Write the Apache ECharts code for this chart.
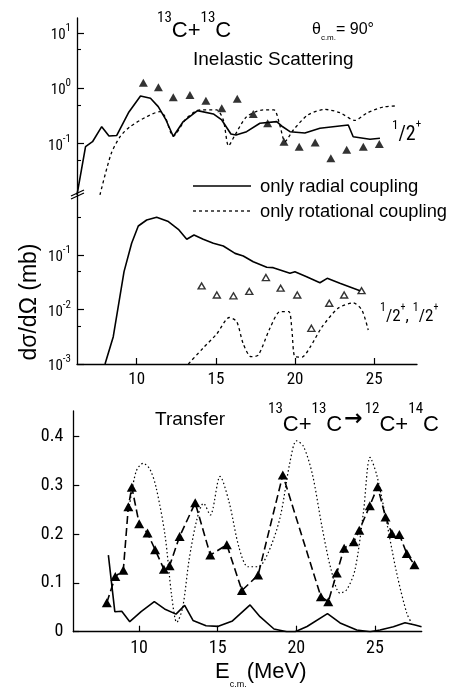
<!DOCTYPE html>
<html><head><meta charset="utf-8">
<script src="https://cdn.jsdelivr.net/npm/echarts@6/dist/echarts.min.js"></script>
<style>html,body{margin:0;padding:0;background:#fff}#c{width:453px;height:688px}</style>
</head><body><div id="c"></div>
<script>
// ---------- DATA ----------
// Inelastic scattering, 1/2+ (top panel)
const inelRadialE = [6.23, 6.77, 7.21, 7.79, 8.25, 8.74, 9.51, 10.24, 10.87, 11.36, 11.85, 12.31, 12.92, 13.84, 14.84, 15.37, 15.95, 16.27, 16.94, 17.78, 18.84, 19.15, 19.68, 20.62, 21.57, 23.36, 23.67, 24.73, 25.36];
const inelRadialV = [0.0118, 0.088, 0.108, 0.202, 0.137, 0.14, 0.373, 0.726, 0.66, 0.465, 0.267, 0.134, 0.246, 0.394, 0.343, 0.267, 0.149, 0.143, 0.164, 0.233, 0.249, 0.208, 0.164, 0.155, 0.189, 0.217, 0.133, 0.12, 0.125];
const inelRotE = [7.68, 8.38, 8.95, 9.58, 10.63, 11.47, 11.79, 12.31, 13.16, 14.0, 15.05, 15.47, 15.80, 16.21, 16.94, 17.99, 18.67, 19.05, 19.36, 19.89, 20.81, 21.89, 22.83, 23.78, 24.54, 25.57, 26.43];
const inelRotV = [0.0118, 0.0649, 0.133, 0.202, 0.306, 0.378, 0.306, 0.137, 0.29, 0.406, 0.406, 0.267, 0.0906, 0.143, 0.306, 0.406, 0.406, 0.208, 0.108, 0.176, 0.329, 0.414, 0.362, 0.262, 0.357, 0.459, 0.479];
const inelExpE = [10.42, 11.37, 12.31, 13.36, 14.37, 15.37, 16.35, 17.36, 18.27, 19.3, 20.26, 21.27, 22.26, 23.26, 24.31, 25.32];
const inelExpV = [1.26, 1.04, 0.687, 0.757, 0.597, 0.435, 0.649, 0.343, 0.233, 0.108, 0.088, 0.104, 0.054, 0.077, 0.088, 0.098];
// Mutual excitation 1/2+,1/2+ (middle panel)
const mutRadialE = [8.0, 8.52, 9.2, 9.68, 10.1, 10.63, 11.26, 12.0, 12.63, 13.16, 13.62, 14.2, 14.84, 15.47, 16.21, 16.73, 17.36, 18.21, 18.62, 19.68, 19.99, 20.73, 21.57, 22.03, 22.83, 24.1];
const mutRadialV = [0.001, 0.00317, 0.0494, 0.164, 0.34, 0.438, 0.492, 0.409, 0.296, 0.194, 0.233, 0.194, 0.164, 0.146, 0.107, 0.096, 0.0753, 0.0594, 0.0585, 0.0461, 0.0494, 0.04, 0.031, 0.0373, 0.0303, 0.0221];
const mutRotE = [13.26, 14.2, 15.05, 15.85, 16.31, 16.73, 17.22, 17.68, 18.42, 19.05, 19.61, 19.8, 19.99, 20.44, 20.94, 21.7, 22.71, 23.67, 24.22, 24.62];
const mutRotV = [0.001, 0.00197, 0.00355, 0.00713, 0.00603, 0.00233, 0.00136, 0.00146, 0.00458, 0.00912, 0.00912, 0.00421, 0.00136, 0.00134, 0.00201, 0.00478, 0.0105, 0.0132, 0.0098, 0.00421];
const mutExpE = [14.1, 15.06, 16.11, 17.11, 18.16, 19.09, 20.14, 21.03, 22.16, 23.1, 24.2];
const mutExpV = [0.027, 0.01845, 0.0178, 0.0214, 0.0385, 0.0246, 0.01845, 0.00452, 0.013, 0.01845, 0.0221];
// Transfer (bottom panel)
const trExpE = [7.95, 8.49, 9.0, 9.32, 9.54, 10.01, 10.54, 11.02, 11.58, 11.94, 12.58, 13.57, 14.53, 15.58, 16.54, 17.57, 19.14, 21.56, 22.03, 22.57, 23.04, 23.65, 24.0, 24.67, 25.17, 25.67, 26.07, 26.55, 27.02, 27.51];
const trExpV = [0.0595, 0.113, 0.126, 0.256, 0.296, 0.221, 0.202, 0.168, 0.128, 0.135, 0.195, 0.264, 0.157, 0.178, 0.0845, 0.116, 0.321, 0.0718, 0.0615, 0.12, 0.171, 0.184, 0.208, 0.258, 0.297, 0.235, 0.201, 0.199, 0.16, 0.137];
const trDotE = [9.35, 9.81, 10.27, 10.7, 11.08, 11.65, 12.08, 12.4, 12.77, 13.18, 13.67, 14.1, 14.53, 15.15, 15.72, 16.36, 16.93, 17.57, 18.2, 18.96, 19.6, 20.01, 20.45, 21.03, 21.63, 22.21, 22.78, 23.2, 23.73, 24.26, 24.69, 25.11, 25.75, 26.38, 27.02, 27.34];
const trDotV = [0.25, 0.328, 0.345, 0.332, 0.296, 0.198, 0.072, 0.019, 0.049, 0.147, 0.229, 0.263, 0.239, 0.318, 0.266, 0.172, 0.133, 0.133, 0.161, 0.233, 0.348, 0.391, 0.38, 0.321, 0.215, 0.127, 0.079, 0.086, 0.127, 0.243, 0.357, 0.321, 0.223, 0.12, 0.038, 0.017];
const trSolE = [8.05, 8.46, 8.9, 9.41, 10.13, 10.97, 11.62, 12.35, 12.9, 13.43, 14.26, 15.04, 15.94, 17.06, 17.69, 18.58, 19.39, 19.92, 20.68, 21.98, 22.78, 23.84, 24.69, 25.32, 26.17, 26.91, 27.55, 27.96];
const trSolV = [0.157, 0.041, 0.042, 0.0205, 0.041, 0.0615, 0.0466, 0.036, 0.054, 0.023, 0.0123, 0.011, 0.022, 0.0548, 0.0308, 0.0055, 0, 0, 0.0107, 0.037, 0.018, 0.0035, 0, 0.0035, 0.0103, 0.0185, 0.0137, 0.0103];
// Ticks
const xTicks = [10, 15, 20, 25];
const topDecades = [1, 0, -1];       // log10 of 10^1,10^0,10^-1
const midDecades = [-1, -2, -3];     // log10 of 10^-1,10^-2,10^-3
const linTicks = [0, 0.1, 0.2, 0.3, 0.4];
const legendNames = ['only radial coupling', 'only rotational coupling'];

// ---------- BUILD ----------
const FT = 'Liberation Sans';
const FN = 'Roboto Condensed';
const lg = v => Math.log10(v);
const pairs = (xs, ys, f) => xs.map((x, i) => [x, f ? f(ys[i]) : ys[i]]);
const L5 = Math.log10(5);
const BLK = '#000';

const logLabel = {
  formatter: v => '{b|10}{e|' + Math.round(v) + '}',
  margin: 6, color: BLK,
  rich: {
    b: {fontSize: 15, lineHeight: 20, verticalAlign: 'bottom', fontFamily: FN, color: BLK},
    e: {fontSize: 11, lineHeight: 10, verticalAlign: 'top', fontFamily: FN, color: BLK}
  }
};
function logAxis(grid, min, max, decs, minors) {
  return [
    {gridIndex: grid, type: 'value', min: min, max: max, position: 'left',
     axisLine: {show: true, onZero: false, lineStyle: {color: BLK, width: 1.3}},
     axisTick: {show: true, inside: true, length: 7, customValues: decs, lineStyle: {color: BLK, width: 1.2}},
     axisLabel: Object.assign({customValues: decs}, logLabel),
     splitLine: {show: false}},
    {gridIndex: grid, type: 'value', min: min, max: max, position: 'left',
     axisLine: {show: false, onZero: false},
     axisTick: {show: true, inside: true, length: 4, customValues: minors, lineStyle: {color: BLK, width: 1.1}},
     axisLabel: {show: false}, splitLine: {show: false}}
  ];
}
function rt(x, y, text, rich, extra) {
  const r = {};
  Object.keys(rich).forEach(k => { r[k] = Object.assign({fill: BLK, fontFamily: FT}, rich[k]); });
  return Object.assign({type: 'text', x: x, y: y, style: {text: text, verticalAlign: 'top', fill: BLK, rich: r}}, extra || {});
}

const option = {
  animation: false,
  backgroundColor: '#fff',
  textStyle: {fontFamily: FT, color: BLK},
  grid: [
    {left: 77, top: 18, width: 340, height: 177},
    {left: 77, top: 195, width: 340, height: 169},
    {left: 73.3, top: 411, width: 348.4, height: 220.7}
  ],
  xAxis: [
    {gridIndex: 0, type: 'value', min: 6.23, max: 27.7, show: false},
    {gridIndex: 1, type: 'value', min: 6.23, max: 27.7,
     axisLine: {onZero: false, lineStyle: {color: BLK, width: 1.3}},
     axisTick: {inside: true, length: 6, customValues: xTicks, lineStyle: {color: BLK, width: 1.2}},
     axisLabel: {customValues: xTicks, fontSize: 17, margin: 7, color: BLK, fontFamily: FN},
     splitLine: {show: false}},
    {gridIndex: 2, type: 'value', min: 5.82, max: 27.97,
     axisLine: {onZero: false, lineStyle: {color: BLK, width: 1.3}},
     axisTick: {inside: true, length: 6, customValues: xTicks, lineStyle: {color: BLK, width: 1.2}},
     axisLabel: {customValues: xTicks, fontSize: 18, margin: 8, color: BLK, fontFamily: FN},
     splitLine: {show: false}}
  ],
  yAxis: [].concat(
    logAxis(0, -1.93, 1.27, topDecades, topDecades.map(d => d - 1 + L5)),
    logAxis(1, -3, 0.1, midDecades, [L5 - 1, L5 - 2, L5 - 3]),
    [{gridIndex: 2, type: 'value', min: 0, max: 0.452, position: 'left',
      axisLine: {show: true, onZero: false, lineStyle: {color: BLK, width: 1.3}},
      axisTick: {show: true, inside: true, length: 6, customValues: linTicks, lineStyle: {color: BLK, width: 1.2}},
      axisLabel: {customValues: linTicks, fontSize: 18, margin: 10, color: BLK, fontFamily: FN,
                  formatter: v => v === 0 ? '0' : v.toFixed(1)},
      splitLine: {show: false}}]
  ),
  series: [
    {name: legendNames[0], type: 'line', xAxisIndex: 0, yAxisIndex: 0, symbol: 'none',
     data: pairs(inelRadialE, inelRadialV, lg), lineStyle: {color: BLK, width: 1.6}},
    {name: legendNames[1], type: 'line', xAxisIndex: 0, yAxisIndex: 0, symbol: 'none', smooth: 0.25,
     data: pairs(inelRotE, inelRotV, lg), lineStyle: {color: BLK, width: 1.3, type: [3, 3]}},
    {type: 'scatter', xAxisIndex: 0, yAxisIndex: 0, symbol: 'triangle', symbolSize: [9, 8], z: 5,
     data: pairs(inelExpE, inelExpV, lg), itemStyle: {color: BLK}},
    {name: legendNames[0], type: 'line', xAxisIndex: 1, yAxisIndex: 2, symbol: 'none',
     data: pairs(mutRadialE, mutRadialV, lg), lineStyle: {color: BLK, width: 1.6}},
    {name: legendNames[1], type: 'line', xAxisIndex: 1, yAxisIndex: 2, symbol: 'none', smooth: 0.25,
     data: pairs(mutRotE, mutRotV, lg), lineStyle: {color: BLK, width: 1.3, type: [3, 3]}},
    {type: 'scatter', xAxisIndex: 1, yAxisIndex: 2, symbol: 'triangle', symbolSize: [7, 6], z: 5,
     data: pairs(mutExpE, mutExpV, lg), itemStyle: {color: '#fff', borderColor: BLK, borderWidth: 1.4}},
    {name: 'transfer exp', type: 'line', xAxisIndex: 2, yAxisIndex: 4, symbol: 'triangle', symbolSize: [10, 9],
     showAllSymbol: true, z: 5,
     data: pairs(trExpE, trExpV), lineStyle: {color: BLK, width: 1.6, type: [8, 4]}, itemStyle: {color: BLK}},
    {name: 'transfer rot', type: 'line', xAxisIndex: 2, yAxisIndex: 4, symbol: 'none', smooth: 0.3,
     data: pairs(trDotE, trDotV), lineStyle: {color: BLK, width: 1.2, type: [1.5, 2.5]}},
    {name: 'transfer rad', type: 'line', xAxisIndex: 2, yAxisIndex: 4, symbol: 'none',
     data: pairs(trSolE, trSolV), lineStyle: {color: BLK, width: 1.6}}
  ],
  graphic: [
    // axis break mark
    {type: 'line', shape: {x1: 71, y1: 199, x2: 84, y2: 193}, style: {stroke: BLK, lineWidth: 1.3}},
    {type: 'line', shape: {x1: 71, y1: 196, x2: 84, y2: 190}, style: {stroke: BLK, lineWidth: 1.3}},
    // legend
    {type: 'line', shape: {x1: 193, y1: 186, x2: 251, y2: 186}, style: {stroke: BLK, lineWidth: 1.6}},
    {type: 'line', shape: {x1: 193, y1: 211, x2: 251, y2: 211}, style: {stroke: BLK, lineWidth: 1.3, lineDash: [3, 3]}},
    {type: 'text', x: 260, y: 187, style: {text: legendNames[0], fontSize: 18.5, fontFamily: FT, fill: BLK, verticalAlign: 'middle'}},
    {type: 'text', x: 260, y: 212, style: {text: legendNames[1], fontSize: 18.3, fontFamily: FT, fill: BLK, verticalAlign: 'middle'}},
    // titles
    rt(157, 10.5, '{s|13}{c|C+}{s|13}{c|C}', {
      s: {fontSize: 15, lineHeight: 16, verticalAlign: 'top', fontFamily: FN},
      c: {fontSize: 22, lineHeight: 31.5, verticalAlign: 'bottom'}}),
    rt(312, 22, '{t|θ}{m|c.m.}{t|= 90°}', {
      t: {fontSize: 16, lineHeight: 20, verticalAlign: 'top'},
      m: {fontSize: 8, lineHeight: 8, verticalAlign: 'bottom'}}),
    {type: 'text', x: 193, y: 60, style: {text: 'Inelastic Scattering', fontSize: 19, fontFamily: FT, fill: BLK, verticalAlign: 'middle'}},
    rt(392, 119, '{a|1}{b|/2}{c|+}', {
      a: {fontSize: 13, lineHeight: 13, verticalAlign: 'top', fontFamily: FN},
      b: {fontSize: 20, lineHeight: 26, verticalAlign: 'bottom', fontFamily: FN},
      c: {fontSize: 11, lineHeight: 11, verticalAlign: 'top', fontFamily: FN}}),
    rt(380, 302, '{a|1}{b|/2}{c|+}{b|, }{a|1}{b|/2}{c|+}', {
      a: {fontSize: 12, lineHeight: 12, verticalAlign: 'top', fontFamily: FN},
      b: {fontSize: 17, lineHeight: 23, verticalAlign: 'bottom', fontFamily: FN},
      c: {fontSize: 10, lineHeight: 10, verticalAlign: 'top', fontFamily: FN}}),
    {type: 'text', x: 30, y: 302, rotation: Math.PI / 2, style: {
      text: 'dσ/dΩ (mb)', fontSize: 23, fontFamily: FT, fill: BLK, align: 'center', verticalAlign: 'middle'}},
    {type: 'text', x: 155, y: 420, style: {text: 'Transfer', fontSize: 19, fontFamily: FT, fill: BLK, verticalAlign: 'middle'}},
    rt(268, 402, '{s|13}{c|C+}{s|13}{c|C}{a|→}{s|12}{c|C+}{s|14}{c|C}', {
      s: {fontSize: 15, lineHeight: 16, verticalAlign: 'top', fontFamily: FN},
      c: {fontSize: 22, lineHeight: 33.5, verticalAlign: 'bottom'},
      a: {fontSize: 22, fontFamily: 'DejaVu Sans', fontWeight: 'bold', verticalAlign: 'bottom', padding: [0, 2, 5, 2]}}),
    rt(215, 661, '{e|E}{s|c.m.}{e|(MeV)}', {
      e: {fontSize: 22, lineHeight: 28, verticalAlign: 'top'},
      s: {fontSize: 9, lineHeight: 9, verticalAlign: 'bottom'}})
  ]
};
const chart = echarts.init(document.getElementById('c'), null, {renderer: 'canvas'});
chart.setOption(option);
</script>
</body></html>
